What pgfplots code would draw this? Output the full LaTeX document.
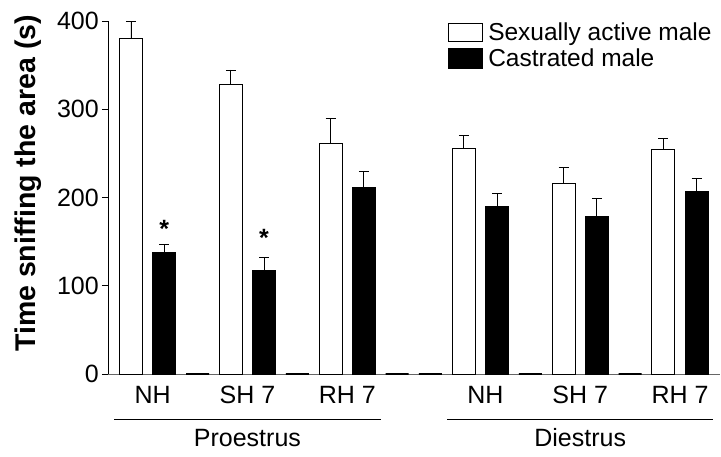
\documentclass[border=0pt]{standalone}
\usepackage{pgfplots}
\pgfplotsset{compat=1.18}
\usepackage{fontspec}
\setmainfont{Liberation Sans}
\begin{document}
\begin{tikzpicture}
\useasboundingbox (-108pt,-83pt) rectangle (613pt,374pt);
\begin{axis}[
  at={(0pt,0pt)}, anchor=south west,
  scale only axis, width=612pt, height=353pt,
  xmin=-0.69, xmax=17.7, ymin=0, ymax=400,
  clip=false,
  axis lines*=left,
  axis line style={line width=0.8pt},
  x axis line style={black!60},
  ytick={0,100,200,300,400},
  tick align=outside, major tick length=6pt,
  ytick style={line width=0.8pt, black},
  xtick={0.65,3.5,6.5,10.65,13.5,16.5},
  xticklabels={NH,SH 7,RH 7,NH,SH 7,RH 7},
  xtick style={draw=none},
  tick label style={font=\fontsize{25}{29}\selectfont},
  /pgf/number format/assume math mode=true,
  yticklabel style={inner sep=0pt, xshift=-3pt},
  xticklabel style={inner sep=0pt, yshift=-6pt},
  ylabel={Time sniffing the area (s)},
  ylabel style={font=\fontsize{28.5}{32}\selectfont\bfseries, at={(axis description cs:-0.131,0.54)}, anchor=center},
  legend style={draw=none, fill=none, at={(rel axis cs:0.556,1.0)}, anchor=north west,
    font=\fontsize{24.5}{28}\selectfont, inner sep=0pt, row sep=4pt,
    nodes={inner xsep=5pt, inner ysep=1.5pt}},
  legend cell align=left,
]
\addplot[ybar, bar width=23pt, bar shift=0pt, fill=white, draw=black, line width=0.9pt,
  legend image code/.code={\draw[fill=white, draw=black, line width=0.8pt] (0pt,-9pt) rectangle (34pt,9pt);},
  error bars/.cd, y dir=plus, y explicit,
  error bar style={line width=0.9pt, black},
  error mark options={rotate=90, line width=0.9pt, mark size=5pt, black}]
coordinates {
  (0,380) +- (0,19)
  (3,328) +- (0,16.5)
  (6,261) +- (0,29)
  (10,256) +- (0,14)
  (13,216) +- (0,18)
  (16,254) +- (0,13)
};
\addlegendentry{Sexually active male}
\addplot[ybar, bar width=23pt, bar shift=0pt, fill=black, draw=black, line width=0.9pt,
  legend image code/.code={\draw[fill=black, draw=black, line width=0.8pt] (0pt,-10pt) rectangle (34pt,10pt);},
  error bars/.cd, y dir=plus, y explicit,
  error bar style={line width=0.9pt, black},
  error mark options={rotate=90, line width=0.9pt, mark size=5pt, black}]
coordinates {
  (1,138) +- (0,9)
  (4,117) +- (0,15)
  (7,211) +- (0,19)
  (11,190) +- (0,15)
  (14,179) +- (0,20)
  (17,207) +- (0,15)
};
\addlegendentry{Castrated male}
\addplot[ybar, bar width=23pt, bar shift=0pt, fill=none, draw=black, line width=1.5pt, forget plot]
coordinates {(2,0) (5,0) (8,0) (9,0) (12,0) (15,0)};
\node[font=\fontsize{25}{28}\selectfont\bfseries, anchor=base] at (axis cs:1,155) {*};
\node[font=\fontsize{25}{28}\selectfont\bfseries, anchor=base] at (axis cs:4,144) {*};
\draw[line width=1pt] (axis cs:-0.5,-51) -- (axis cs:7.5,-51);
\draw[line width=1pt] (axis cs:9.5,-51) -- (axis cs:17.5,-51);
\node[font=\fontsize{25}{29}\selectfont, anchor=base] at (axis cs:3.5,-81.6) {Proestrus};
\node[font=\fontsize{25}{29}\selectfont, anchor=base] at (axis cs:13.5,-81.6) {Diestrus};
\end{axis}
\end{tikzpicture}
\end{document}
